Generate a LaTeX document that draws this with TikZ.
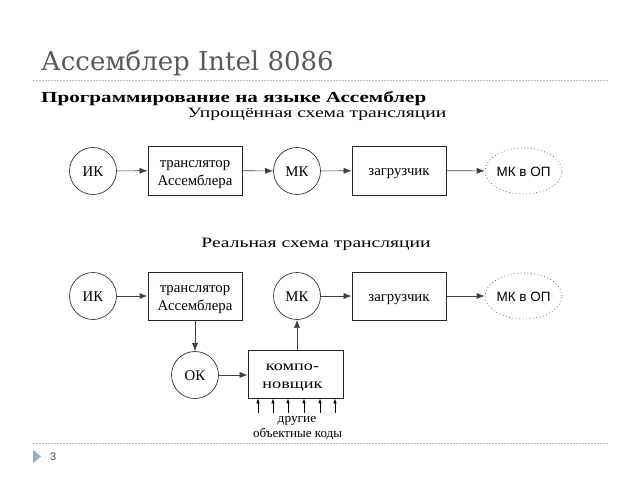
\documentclass[tikz,border=0pt]{standalone}
\usepackage{graphicx}
\usepackage{fontspec}
\setmainfont{Liberation Serif}
\newfontfamily\sansf{Liberation Sans}
\newfontfamily\titlef{DejaVu Serif}
\usetikzlibrary{shapes.geometric,arrows.meta}
\definecolor{titlegray}{HTML}{5A5A5A}
\definecolor{rulegray}{HTML}{BDBDBD}
\definecolor{markblue}{HTML}{94AFC4}
\newcommand{\wide}[1]{\scalebox{1.37}[1]{#1}}
\tikzset{
  circ/.style={draw=black!80, line width=0.7pt, circle, minimum size=47pt, inner sep=0pt},
  blk/.style={draw=black!85, line width=0.8pt, rectangle, minimum width=94pt, minimum height=49pt, inner sep=0pt},
  ovl/.style={draw=black!70, line width=0.6pt, dash pattern=on 0.8pt off 2.6pt, ellipse, minimum width=77pt, minimum height=46pt, inner sep=0pt},
  lbl/.style={anchor=base, inner sep=0pt, font=\fontsize{14.8}{17}\selectfont},
  slbl/.style={anchor=base, inner sep=0pt, font=\sansf\fontsize{13.5}{15}\selectfont},
  arr/.style={draw=black!75, line width=0.6pt, -{Latex[length=8pt,width=6pt]}},
  sarr/.style={draw=black, line width=0.6pt, -{Latex[length=5pt,width=3.5pt]}},
  hrule/.style={draw=rulegray, line width=0.6pt, dash pattern=on 1.5pt off 1.5pt},
}
\begin{document}
\begin{tikzpicture}[x=1pt,y=-1pt]
\useasboundingbox (0,0) rectangle (640,480);
% header
\node[anchor=base west, inner sep=0pt, text=titlegray, font=\titlef\fontsize{26}{28}\selectfont] (title) at (41,70) {Ассемблер Intel 8086};
\draw[hrule] (33,80) -- (608,80);
\node[anchor=base west, inner sep=0pt, font=\bfseries\fontsize{15.4}{18}\selectfont] (sub) at (41,102) {\wide{Программирование на языке Ассемблер}};
\node[anchor=base, inner sep=0pt, font=\fontsize{14.3}{17}\selectfont] (cap1) at (317,117) {\wide{Упрощённая схема трансляции}};
\node[anchor=base, inner sep=0pt, font=\fontsize{14.3}{17}\selectfont] (cap2) at (316,247) {\wide{Реальная схема трансляции}};
% row 1
\node[circ] (ik1) at (93,171) {};
\node[lbl] (ik1t) at (93,176.5) {ИК};
\node[blk] (tr1) at (195,170.5) {};
\node[lbl] (tr1a) at (195,167) {транслятор};
\node[lbl] (tr1b) at (195,185) {Ассемблера};
\node[circ] (mk1) at (297,171) {};
\node[lbl] (mk1t) at (297,176.5) {МК};
\node[blk] (ld1) at (399,170.5) {};
\node[lbl] (ld1t) at (399,175.5) {загрузчик};
\node[ovl] (op1) at (523.5,171) {};
\node[slbl] (op1t) at (523.5,176) {МК в ОП};
\draw[arr] (ik1) -- (tr1);
\draw[arr] (tr1) -- (mk1);
\draw[arr] (mk1) -- (ld1);
\draw[arr] (ld1) -- (op1);
% row 2
\node[circ] (ik2) at (93,296) {};
\node[lbl] (ik2t) at (93,301.5) {ИК};
\node[blk, minimum height=48pt] (tr2) at (195,296) {};
\node[lbl] (tr2a) at (195,292) {транслятор};
\node[lbl] (tr2b) at (195,310) {Ассемблера};
\node[circ] (mk2) at (297,296) {};
\node[lbl] (mk2t) at (297,301.5) {МК};
\node[blk, minimum height=48pt] (ld2) at (399,296) {};
\node[lbl] (ld2t) at (399,301) {загрузчик};
\node[ovl] (op2) at (523.5,296) {};
\node[slbl] (op2t) at (523.5,301) {МК в ОП};
\node[circ] (ok) at (195,375) {};
\node[lbl] (okt) at (195,380.5) {ОК};
\node[blk, minimum width=95pt, minimum height=48pt] (lnk) at (295.5,374) {};
\node[lbl, font=\fontsize{14}{16}\selectfont] (lnka) at (292.5,370) {\scalebox{1.3}[1]{компо-}};
\node[lbl, font=\fontsize{14}{16}\selectfont] (lnkb) at (292.5,388) {\scalebox{1.3}[1]{новщик}};
\draw[arr, line width=0.9pt] (ik2) -- (tr2);
\draw[arr] (mk2) -- (ld2);
\draw[arr] (ld2) -- (op2);
\draw[arr] (tr2) -- (ok);
\draw[arr] (ok) -- (ok -| lnk.west);
\draw[arr] (lnk.north -| mk2) -- (mk2);
% small input arrows
\foreach \i/\xx in {1/258,2/273,3/288,4/304,5/320,6/335} {
  \coordinate (in\i) at (\xx,413);
  \draw[sarr] (in\i) -- (in\i |- lnk.south);
}
\node[anchor=base, inner sep=0pt, font=\fontsize{13}{14}\selectfont] (oth) at (297,422) {\scalebox{1.03}[1]{другие}};
\node[anchor=base, inner sep=0pt, font=\fontsize{13}{14}\selectfont] (obj) at (297.5,437.5) {\scalebox{1.0}[1]{объектные коды}};
% footer
\draw[hrule] (33,443) -- (608,443);
\fill[markblue] (33,450) -- (41,456.5) -- (33,463) -- cycle;
\node[anchor=base west, inner sep=0pt, text=black!70, font=\sansf\fontsize{11}{13}\selectfont] (pg) at (50,460) {3};
\end{tikzpicture}
\end{document}
